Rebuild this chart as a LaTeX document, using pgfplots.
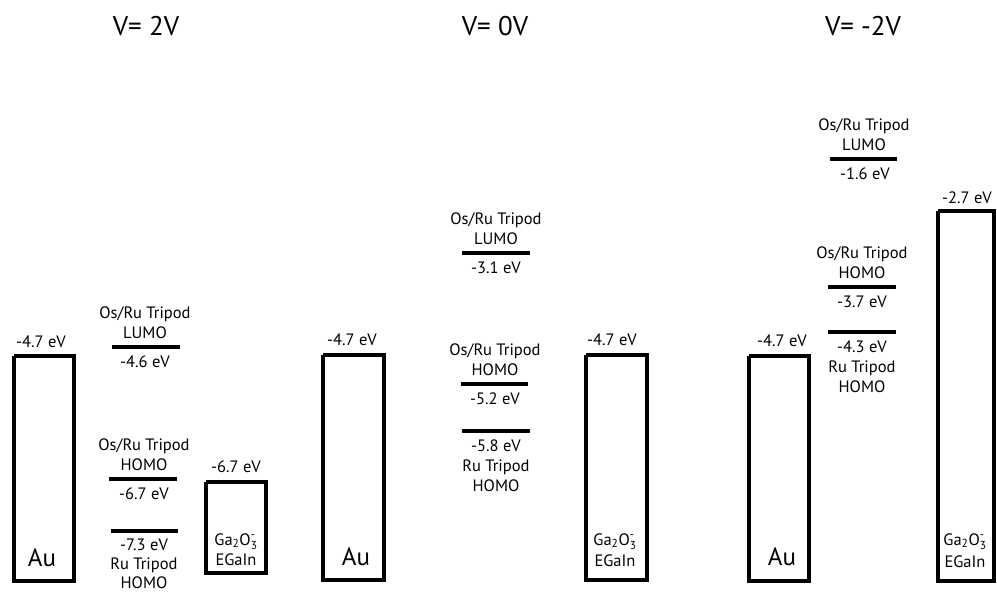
\documentclass[border=0pt]{standalone}
\usepackage{fontspec}
\setmainfont{PT Sans}
\usepackage{amsmath}
\usepackage{pgfplots}
\pgfplotsset{compat=1.18}
\newcommand{\lab}[3]{\node[anchor=base,inner sep=0pt,font=\fontsize{16.5}{19}\selectfont] at (axis cs:#1,#2) {#3};}
\newcommand{\Ga}{Ga$_{\text{2}}$O$_{\text{3}}^{\text{-}}$}
\begin{document}
\begin{tikzpicture}
\begin{axis}[
  scale only axis, width=997pt, height=592pt,
  xmin=0, xmax=997, ymin=0, ymax=592, y dir=reverse,
  axis lines=none, clip=false,
]
% electrode boxes (drawn positions, image units)
\addplot[black, line width=3.4pt] coordinates {(14,356) (74,356) (74,581) (14,581) (14,356)};
\addplot[black, line width=3.4pt] coordinates {(206,482) (266,482) (266,573) (206,573) (206,482)};
\addplot[black, line width=3.4pt] coordinates {(323,355) (384,355) (384,580) (323,580) (323,355)};
\addplot[black, line width=3.4pt] coordinates {(586,355) (647,355) (647,580) (586,580) (586,355)};
\addplot[black, line width=3.4pt] coordinates {(749,356) (809,356) (809,581) (749,581) (749,356)};
\addplot[black, line width=3.4pt] coordinates {(938,211) (994,211) (994,581) (938,581) (938,211)};
% molecular levels
\addplot[black, line width=3.4pt, unbounded coords=jump] coordinates {
 (112,347) (180,347) (0,nan)
 (109,479) (177,479) (0,nan)
 (111,531) (178,531) (0,nan)
 (462,253) (530,253) (0,nan)
 (461,384) (528,384) (0,nan)
 (462,431) (530,431) (0,nan)
 (830,159) (897,159) (0,nan)
 (828,287) (896,287) (0,nan)
 (828,332) (896,332)
};
% titles
\node[anchor=base,inner sep=0pt,font=\fontsize{27}{30}\selectfont] at (axis cs:146,35) {V= 2V};
\node[anchor=base,inner sep=0pt,font=\fontsize{27}{30}\selectfont] at (axis cs:495,35) {V= 0V};
\node[anchor=base,inner sep=0pt,font=\fontsize{27}{30}\selectfont] at (axis cs:863,35) {V= -2V};
% V = 2V
\lab{41}{347}{-4.7 eV}
\lab{145}{318}{Os/Ru Tripod}
\lab{145}{338}{LUMO}
\lab{145}{367}{-4.6 eV}
\lab{144}{450}{Os/Ru Tripod}
\lab{144}{470}{HOMO}
\lab{144}{499}{-6.7 eV}
\lab{144}{550}{-7.3 eV}
\lab{144}{569}{Ru Tripod}
\lab{144}{588}{HOMO}
\lab{236}{472}{-6.7 eV}
\lab{236}{545}{\Ga}
\lab{236}{565}{EGaIn}
\node[anchor=base,inner sep=0pt,font=\fontsize{25}{28}\selectfont] at (axis cs:42,566) {Au};
% V = 0V
\lab{352}{345}{-4.7 eV}
\lab{612}{345}{-4.7 eV}
\lab{496}{224}{Os/Ru Tripod}
\lab{496}{244}{LUMO}
\lab{496}{273}{-3.1 eV}
\lab{495}{355}{Os/Ru Tripod}
\lab{495}{375}{HOMO}
\lab{495}{404}{-5.2 eV}
\lab{496}{451}{-5.8 eV}
\lab{496}{471}{Ru Tripod}
\lab{496}{491}{HOMO}
\lab{615}{545}{\Ga}
\lab{615}{566}{EGaIn}
\node[anchor=base,inner sep=0pt,font=\fontsize{25}{28}\selectfont] at (axis cs:356,565) {Au};
% V = -2V
\lab{782}{346}{-4.7 eV}
\lab{967}{203}{-2.7 eV}
\lab{864}{130}{Os/Ru Tripod}
\lab{864}{150}{LUMO}
\lab{865}{179}{-1.6 eV}
\lab{862}{258}{Os/Ru Tripod}
\lab{862}{278}{HOMO}
\lab{862}{307}{-3.7 eV}
\lab{862}{352}{-4.3 eV}
\lab{862}{372}{Ru Tripod}
\lab{862}{392}{HOMO}
\lab{965}{545}{\Ga}
\lab{965}{567}{EGaIn}
\node[anchor=base,inner sep=0pt,font=\fontsize{25}{28}\selectfont] at (axis cs:782,565) {Au};
\end{axis}
\pgfresetboundingbox
\path (current axis.south west) rectangle (current axis.north east);
\end{tikzpicture}
\end{document}
